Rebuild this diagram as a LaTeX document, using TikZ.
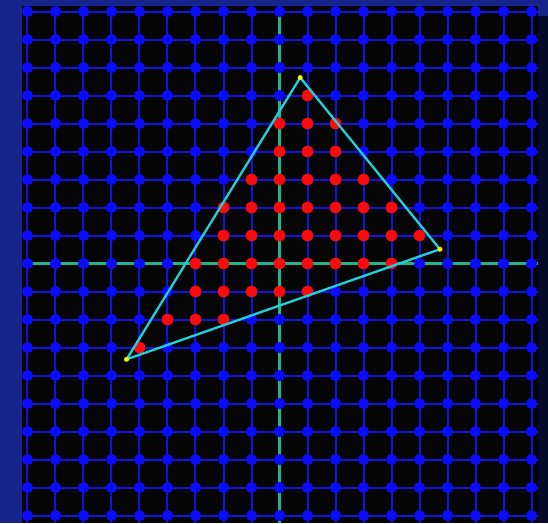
\documentclass[tikz,border=0pt]{standalone}
\usepackage{tikz}
\definecolor{frameblue}{HTML}{14248A}
\definecolor{framenavy}{HTML}{050A28}
\definecolor{boardblack}{HTML}{050505}
\definecolor{gridblue}{HTML}{1212E0}
\definecolor{dotblue}{HTML}{0A0AFF}
\definecolor{axisgreen}{HTML}{22B38A}
\definecolor{edgecyan}{HTML}{1ED2DC}
\definecolor{hitred}{HTML}{FF0A0A}
\definecolor{vertyellow}{HTML}{F5F50A}

\begin{document}
\begin{tikzpicture}[x=28pt,y=28pt,
    gridline/.style={gridblue,line width=2pt},
    axis/.style={axisgreen,line width=2.8pt},
    pixel/.style={fill=dotblue},
    hit/.style={fill=hitred},
    edge/.style={edgecyan,line width=2.3pt},
    vertex/.style={fill=vertyellow}]
    % frame
    \fill[frameblue] (-9.982,-9.268) rectangle (9.589,9.411);
    \fill[framenavy] (9.232,-9.268) rectangle (9.589,8.839);
    \fill[boardblack] (-9.196,-9.268) rectangle (9.232,9.196);
    \useasboundingbox (-9.982,-9.268) rectangle (9.589,9.411);

    % grid
    \foreach \i in {-9,...,9} {
      \draw[gridline] (-9.196,\i) -- (9.232,\i);
      \draw[gridline] (\i,9.196) -- (\i,-9.268);
    }
    \draw[axis] (-9.196,0) -- (9.232,0);
    \draw[axis] (0,9.196) -- (0,-9.268);
    \foreach \x in {-9,...,9}
      \foreach \y in {-9,...,9}
        \fill[pixel] (\x,\y) circle[radius=.2];

    % covered pixels: row/first/last
    \foreach \y/\a/\b in {6/1/1,5/0/2,4/0/2,3/-1/3,2/-2/4,1/-2/5,0/-3/4,-1/-3/1,-2/-4/-2,-3/-5/-5}
      \foreach \x in {\a,...,\b}
        \fill[hit] (\x,\y) circle[radius=.205];

    % triangle
    \coordinate (A) at (0.74,6.64);
    \coordinate (B) at (5.73,0.51);
    \coordinate (C) at (-5.46,-3.42);
    \draw[edge] (A) -- (B) -- (C) -- cycle;
    \foreach \v in {A,B,C}
      \fill[vertex] (\v) circle[radius=.09];
  \end{tikzpicture}
\end{document}
